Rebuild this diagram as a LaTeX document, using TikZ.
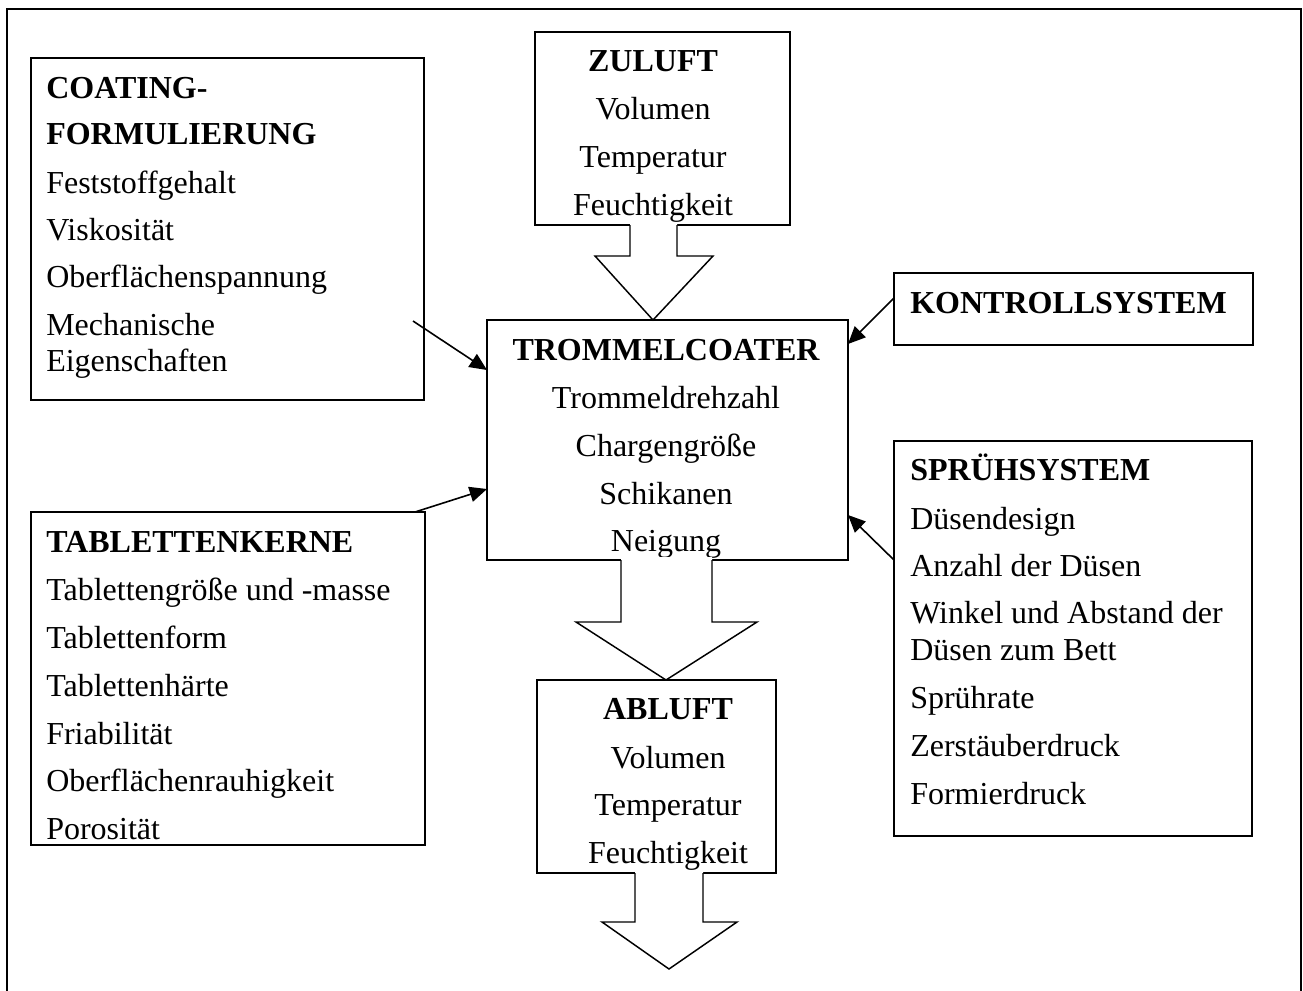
\documentclass[tikz,border=0pt]{standalone}
\usepackage{fontspec}
\setmainfont{Liberation Serif}
\usetikzlibrary{arrows.meta,fit}
\begin{document}
\begin{tikzpicture}[x=0.75pt,y=-0.75pt,
 box/.style={draw,line width=1.5pt,inner sep=0pt},
 txt/.style={anchor=base west,inner sep=0pt,font=\fontsize{24}{27}\selectfont},
 ctxt/.style={anchor=base,inner sep=0pt,font=\fontsize{24}{27}\selectfont},
 hd/.style={font=\fontsize{24}{27}\selectfont\bfseries},
 arr/.style={line width=1.2pt,-{Triangle[length=13pt,width=11.5pt]}},
 bline/.style={line width=1.1pt,line join=miter},
 frame/.style={line width=1.5pt}]
\useasboundingbox (0,0) rectangle (1303,990);
% outer frame
\coordinate (f1) at (7,995);
\coordinate (f2) at (7,9);
\coordinate (f3) at (1301,9);
\coordinate (f4) at (1301,995);
\draw[frame] (f1) -- (f2) -- (f3) -- (f4);

% boxes
\node[box,fit={(31,58) (424,400)}] (coat) {};
\node[box,fit={(535,32) (790,225)}] (zul) {};
\node[box,fit={(487,320) (848,560)}] (trom) {};
\node[box,fit={(894,273) (1253,345)}] (kont) {};
\node[box,fit={(894,441) (1252,836)}] (spr) {};
\node[box,fit={(31,512) (425,845)}] (tab) {};
\node[box,fit={(537,680) (776,873)}] (abl) {};

% COATING text
\node[txt,hd] (c0) at (46,98) {COATING-};
\node[txt,hd] (c1) at (46,144) {FORMULIERUNG};
\node[txt] (c2) at (46,193) {Feststoffgehalt};
\node[txt] (c3) at (46,240) {Viskosität};
\node[txt] (c4) at (46,287) {Oberflächenspannung};
\node[txt] (c5) at (46,335) {Mechanische};
\node[txt] (c6) at (46,371) {Eigenschaften};

% ZULUFT text
\node[ctxt,hd] (z0) at (653,71) {ZULUFT};
\node[ctxt] (z1) at (653,119) {Volumen};
\node[ctxt] (z2) at (653,167) {Temperatur};
\node[ctxt] (z3) at (653,215) {Feuchtigkeit};

% KONTROLLSYSTEM
\node[txt,hd] (k0) at (910,313) {KONTROLLSYSTEM};

% TROMMELCOATER
\node[ctxt,hd] (t0) at (666,360) {TROMMELCOATER};
\node[ctxt] (t1) at (666,408) {Trommeldrehzahl};
\node[ctxt] (t2) at (666,456) {Chargengröße};
\node[ctxt] (t3) at (666,504) {Schikanen};
\node[ctxt] (t4) at (666,551) {Neigung};

% SPRUEHSYSTEM
\node[txt,hd] (s0) at (910,480) {SPRÜHSYSTEM};
\node[txt] (s1) at (910,529) {Düsendesign};
\node[txt] (s2) at (910,576) {Anzahl der Düsen};
\node[txt] (s3) at (910,623) {Winkel und Abstand der};
\node[txt] (s4) at (910,660) {Düsen zum Bett};
\node[txt] (s5) at (910,708) {Sprührate};
\node[txt] (s6) at (910,756) {Zerstäuberdruck};
\node[txt] (s7) at (910,804) {Formierdruck};

% TABLETTENKERNE
\node[txt,hd] (b0) at (46,552) {TABLETTENKERNE};
\node[txt] (b1) at (46,600) {Tablettengröße und -masse};
\node[txt] (b2) at (46,648) {Tablettenform};
\node[txt] (b3) at (46,696) {Tablettenhärte};
\node[txt] (b4) at (46,744) {Friabilität};
\node[txt] (b5) at (46,791) {Oberflächenrauhigkeit};
\node[txt] (b6) at (46,839) {Porosität};

% ABLUFT
\node[ctxt,hd] (a0) at (668,719) {ABLUFT};
\node[ctxt] (a1) at (668,768) {Volumen};
\node[ctxt] (a2) at (668,815) {Temperatur};
\node[ctxt] (a3) at (668,863) {Feuchtigkeit};

% small arrows
\coordinate (ca) at (413,321);
\coordinate (cb) at (487,370);
\draw[arr] (ca) -- (cb);
\coordinate (ta) at (415,512);
\coordinate (tb) at (487,489);
\draw[arr] (ta) -- (tb);
\coordinate (ka) at (894,298);
\coordinate (kb) at (848,344);
\draw[arr] (ka) -- (kb);
\coordinate (sa) at (894,560);
\coordinate (sb) at (848,515);
\draw[arr] (sa) -- (sb);

% block arrows
\fill[white] (630,222) -- (630,256) -- (595,256) -- (653,320) -- (713,256) -- (677,256) -- (677,222) -- cycle;
\draw[bline] (630,225) -- (630,256) -- (595,256) -- (653,320) -- (713,256) -- (677,256) -- (677,225);

\fill[white] (621,557) -- (621,622) -- (576,622) -- (666,680) -- (757,622) -- (712,622) -- (712,557) -- cycle;
\draw[bline] (621,560) -- (621,622) -- (576,622) -- (666,680) -- (757,622) -- (712,622) -- (712,560);

\fill[white] (635,870) -- (635,922) -- (602,922) -- (669,969) -- (737,922) -- (703,922) -- (703,870) -- cycle;
\draw[bline] (635,873) -- (635,922) -- (602,922) -- (669,969) -- (737,922) -- (703,922) -- (703,873);
\end{tikzpicture}
\end{document}
